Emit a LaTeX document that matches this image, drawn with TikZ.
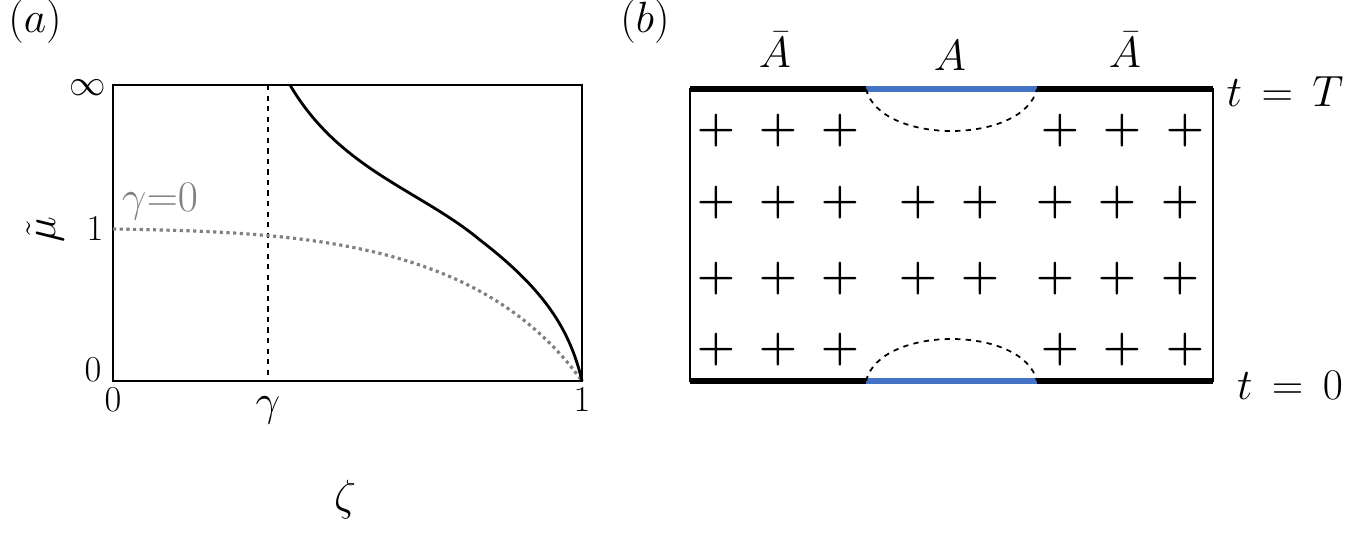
\documentclass[tikz,border=0pt]{standalone}
\usepackage{amsmath}
\begin{document}
\begin{tikzpicture}[x=0.02cm,y=-0.02cm,
  lbl/.style={font=\fontsize{23}{26}\selectfont,inner sep=0pt},
  tick/.style={font=\fontsize{21}{24}\selectfont,inner sep=0pt},
  big/.style={font=\fontsize{36}{40}\selectfont,inner sep=0pt},
  pl/.style={font=\fontsize{34}{36}\selectfont\boldmath,inner sep=0pt},
  thickbar/.style={line width=3.6pt},
  bluebar/.style={line width=3.6pt,draw={rgb,255:red,68;green,114;blue,196}}]
\useasboundingbox (0,0) rectangle (1361,534);
% panel a
\node[lbl] (la) at (35,22) {$(a)$};
\draw[line width=1.4pt] (113,85) rectangle (582,381);
\coordinate (g1) at (268,85); \coordinate (g2) at (268,381);
\draw[dashed,line width=0.9pt] (g1) -- (g2);
\draw[gray,dotted,line width=1.8pt] (113,229) .. controls (300,232) and (480,240) .. (582,381);
\draw[line width=1.6pt] (290,85) .. controls (340,170) and (420,190) .. (480,240) .. controls (545,290) and (570,330) .. (582,381);
\node[tick] (inf) at (88,88) {$\infty$};
\node[tick] (one) at (95,229) {$1$};
\node[tick] (zy) at (93,370) {$0$};
\node[tick] (zx) at (113,400) {$0$};
\node[tick] (ox) at (582,400) {$1$};
\node[big] (gam) at (268,410) {$\gamma$};
\node[big] (zeta) at (345,500) {$\zeta$};
\node[big,rotate=90] (mu) at (45,230) {$\tilde\mu$};
\node[lbl,gray] (g0) at (160,202) {$\gamma{=}0$};
% panel b
\node[lbl] (lb) at (645,22) {$(b)$};
\draw[line width=1.4pt] (690,89) rectangle (1213,381);
\draw[thickbar] (690,89) -- (866,89) (1037,89) -- (1213,89) (690,381) -- (866,381) (1037,381) -- (1213,381);
\draw[bluebar] (866,89) -- (1037,89) (866,381) -- (1037,381);
\draw[dashed,line width=1pt] (866,89) .. controls (880,145) and (1023,145) .. (1037,89);
\draw[dashed,line width=1pt] (866,381) .. controls (880,325) and (1023,325) .. (1037,381);
\foreach \x in {716,778,840,1060,1122,1185}{\node[pl] at (\x,131) {$+$}; \node[pl] at (\x,350) {$+$};}
\foreach \x in {716,778,840,918,980,1055,1117,1180}{\node[pl] at (\x,203) {$+$}; \node[pl] at (\x,279) {$+$};}
\node[lbl] (ab1) at (775,50) {$\bar A$};
\node[lbl] (a) at (950,56) {$A$};
\node[lbl] (ab2) at (1125,50) {$\bar A$};
\node[lbl] (tT) at (1285,92) {$t\,=\,T$};
\node[lbl] (t0) at (1290,385) {$t\,=\,0$};
\end{tikzpicture}
\end{document}
